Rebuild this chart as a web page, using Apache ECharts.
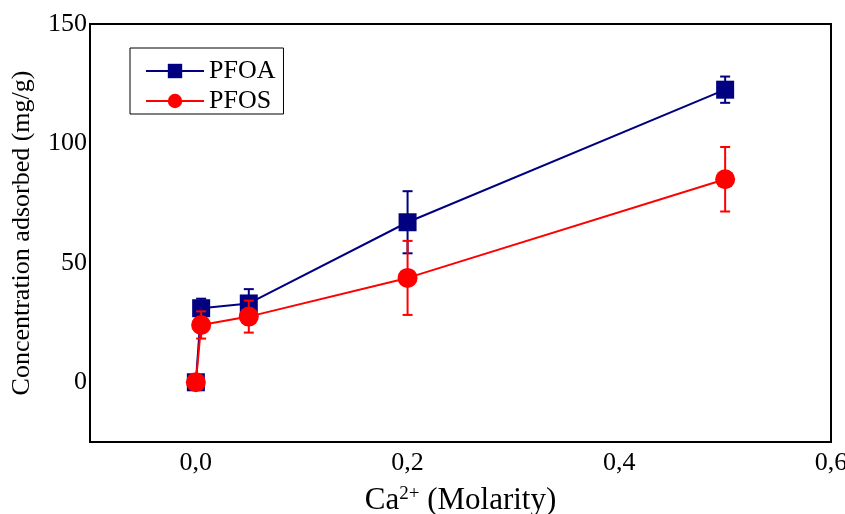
<!DOCTYPE html>
<html lang="en">
<head>
  <meta charset="UTF-8">
  <title>Ca2+ adsorption</title>
  <style>
    html, body { margin: 0; padding: 0; background: #fff; }
    #chart { width: 845px; height: 514px; }
  </style>
</head>
<body>
  <div id="chart"></div>
</body>
<script src="https://cdn.jsdelivr.net/npm/echarts@6/dist/echarts.min.js"></script>
<script>
  // Ca2+ molarity
  let molarity = [0, 0.005, 0.05, 0.2, 0.5]
  // adsorbed concentration (mg/g) and error (+/-)
  let pfoa = [0, 31, 33, 67, 122.5]
  let pfoaErr = [0, 4, 6, 13, 5.5]
  let pfos = [0, 24, 27.5, 43.7, 85]
  let pfosErr = [0, 5.7, 6.7, 15.5, 13.5]

  let font = 'Liberation Serif'
  let chart = echarts.init(document.getElementById('chart'))

  function errSeries(vals, errs, color, z) {
    let data = molarity.map((m, i) => [m, vals[i] - errs[i], vals[i] + errs[i]])
    return {
      type: 'custom',
      z: z,
      silent: true,
      data: data.filter(d => d[2] - d[1] > 0),
      renderItem: (params, api) => {
        let lo = api.coord([api.value(0), api.value(1)])
        let hi = api.coord([api.value(0), api.value(2)])
        let w = 5
        let style = { stroke: color, lineWidth: 2 }
        return {
          type: 'group',
          children: [
            { type: 'line', shape: { x1: lo[0], y1: lo[1], x2: hi[0], y2: hi[1] }, style: style },
            { type: 'line', shape: { x1: lo[0] - w, y1: lo[1], x2: lo[0] + w, y2: lo[1] }, style: style },
            { type: 'line', shape: { x1: hi[0] - w, y1: hi[1], x2: hi[0] + w, y2: hi[1] }, style: style }
          ]
        }
      }
    }
  }

  let option = {
    animation: false,
    backgroundColor: '#fff',
    textStyle: { fontFamily: font },
    grid: {
      left: 90, right: 14, top: 24, bottom: 72,
      outerBoundsMode: 'none',
      containLabel: false,
      show: true, borderColor: '#000', borderWidth: 2
    },
    legend: {
      left: 130, top: 48,
      orient: 'vertical',
      padding: [10, 8, 0, 15],
      borderColor: '#000',
      borderWidth: 1,
      itemWidth: 58,
      itemHeight: 18,
      itemGap: 4,
      textStyle: { fontFamily: font, fontSize: 26, color: '#000' },
      data: ['PFOA', 'PFOS']
    },
    xAxis: {
      type: 'value',
      min: -0.1, max: 0.6, interval: 0.1,
      name: '{n|Ca}{s|2+}{n| (Molarity)}',
      nameLocation: 'middle',
      nameGap: 43,
      nameTextStyle: {
        rich: {
          n: { fontFamily: font, fontSize: 31, color: '#000' },
          s: { fontFamily: font, fontSize: 19, color: '#000', verticalAlign: 'top' }
        }
      },
      axisLine: { onZero: false, lineStyle: { color: '#000', width: 2 } },
      axisTick: { show: false },
      splitLine: { show: false },
      axisLabel: {
        fontFamily: font, fontSize: 26, color: '#000', margin: 8,
        formatter: v => {
          let k = Math.round(v * 10)
          return (k >= 0 && k % 2 === 0) ? (k / 10).toFixed(1).replace('.', ',') : ''
        }
      }
    },
    yAxis: {
      type: 'value',
      min: -25, max: 150, interval: 25,
      name: 'Concentration adsorbed (mg/g)',
      nameLocation: 'middle',
      nameGap: 55,
      nameTextStyle: { fontFamily: font, fontSize: 26, color: '#000' },
      axisLine: { onZero: false, lineStyle: { color: '#000', width: 2 } },
      axisTick: { show: false },
      splitLine: { show: false },
      axisLabel: {
        fontFamily: font, fontSize: 26, color: '#000', margin: 3,
        formatter: v => (v >= 0 && v % 50 === 0) ? String(v) : ''
      }
    },
    series: [
      {
        name: 'PFOA',
        type: 'line',
        z: 2,
        data: molarity.map((m, i) => [m, pfoa[i]]),
        symbol: 'rect',
        symbolSize: 18,
        itemStyle: { color: '#000080' },
        lineStyle: { color: '#000080', width: 2 }
      },
      errSeries(pfoa, pfoaErr, '#000080', 3),
      {
        name: 'PFOS',
        type: 'line',
        z: 4,
        data: molarity.map((m, i) => [m, pfos[i]]),
        symbol: 'circle',
        symbolSize: 20,
        itemStyle: { color: '#ff0000' },
        lineStyle: { color: '#ff0000', width: 2 }
      },
      errSeries(pfos, pfosErr, '#ff0000', 5)
    ]
  }
  chart.setOption(option)
</script>
</html>
